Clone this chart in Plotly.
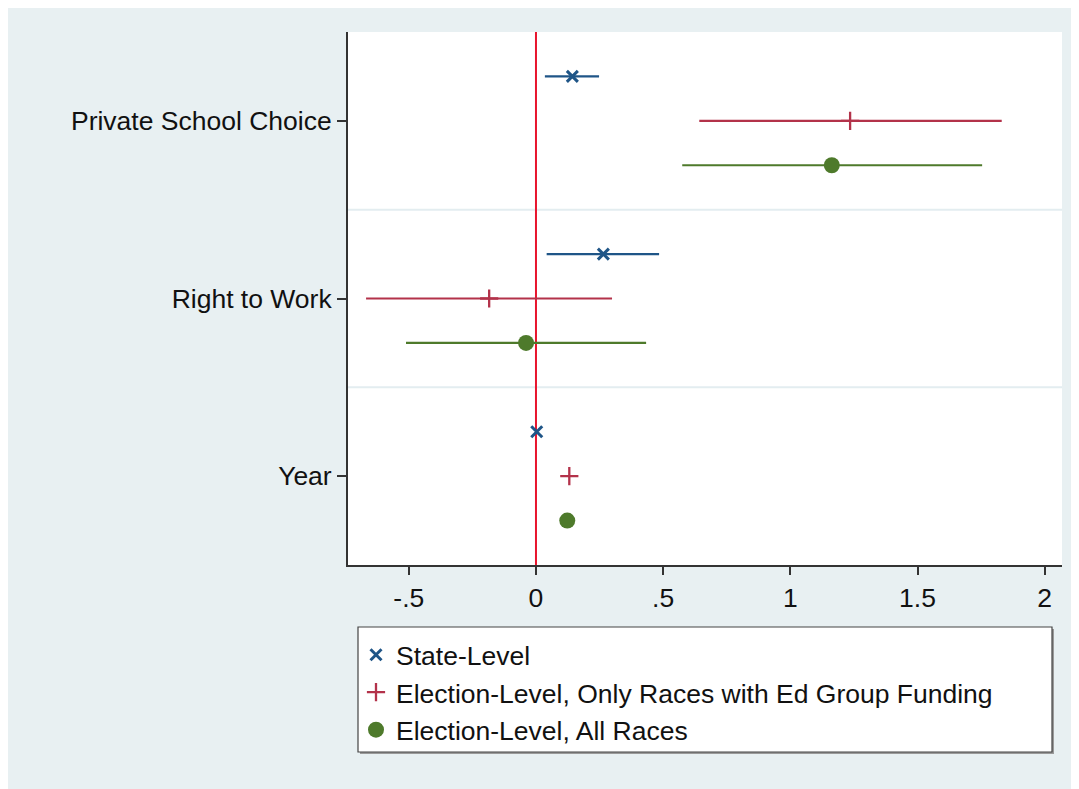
import plotly.graph_objects as go

# ---- data ----
categories = ["Private School Choice", "Right to Work", "Year"]
series_names = ["State-Level",
                "Election-Level, Only Races with Ed Group Funding",
                "Election-Level, All Races"]
state_est = [0.143, 0.265, 0.003]
state_lo = [0.035, 0.042, 0.000]
state_hi = [0.248, 0.484, 0.006]
ed_est = [1.235, -0.184, 0.131]
ed_lo = [0.642, -0.668, 0.128]
ed_hi = [1.831, 0.299, 0.134]
all_est = [1.163, -0.039, 0.123]
all_lo = [0.575, -0.511, 0.120]
all_hi = [1.754, 0.433, 0.126]
x_tickvals = [-0.5, 0, 0.5, 1, 1.5, 2]
x_ticktext = ["-.5", "0", ".5", "1", "1.5", "2"]

OFF = 8  # page body margin
W, H = 1079 - OFF, 789 - OFF
L, T = 348 - OFF, 32 - OFF
R = W - (1062 - OFF)
B = H - (565 - OFF)
PW, PH = W - L - R, H - T - B


def px(x):  # reference-window pixel -> paper
    return (x - OFF - L) / PW


def py(y):
    return (H - B - (y - OFF)) / PH


FONT = "Liberation Sans, Arial, Helvetica, sans-serif"
FS = 26.5
colors = ["#1f5587", "#b3324a", "#4e7a2b"]
offsets = [-0.25, 0.0, 0.25]
symbols = ["x-thin", "cross-thin", "circle"]
sizes = [11, 13, 16]
ests = [state_est, ed_est, all_est]
los = [state_lo, ed_lo, all_lo]
his = [state_hi, ed_hi, all_hi]

base_y = list(range(1, len(categories) + 1))

fig = go.Figure()
for i in range(3):
    e, lo, hi = ests[i], los[i], his[i]
    yv = [b + offsets[i] for b in base_y]
    mk = dict(symbol=symbols[i], size=sizes[i], color=colors[i])
    if symbols[i] != "circle":
        mk["line"] = dict(color=colors[i], width=3 if i == 0 else 2.3)
    fig.add_trace(go.Scatter(
        x=e, y=yv, mode="markers", name=series_names[i],
        legendgroup=f"g{i}",
        marker=mk,
        error_x=dict(type="data", symmetric=False,
                     array=[h - v for h, v in zip(hi, e)],
                     arrayminus=[v - l for v, l in zip(e, lo)],
                     color=colors[i], thickness=2.2, width=0),
    ))

shapes = [
    # outer panel
    dict(type="rect", xref="paper", yref="paper", x0=px(7), x1=px(1085),
         y0=py(795), y1=py(4), fillcolor="#e8f0f2", line=dict(width=0), layer="below"),
    # plot area
    dict(type="rect", xref="paper", yref="paper", x0=0, x1=1, y0=0, y1=1,
         fillcolor="white", line=dict(width=0), layer="below"),
    # separators
    dict(type="line", xref="paper", yref="y", x0=0, x1=1, y0=1.5, y1=1.5,
         line=dict(color="#e3edf0", width=2), layer="below"),
    dict(type="line", xref="paper", yref="y", x0=0, x1=1, y0=2.5, y1=2.5,
         line=dict(color="#e3edf0", width=2), layer="below"),
    # zero line
    dict(type="line", xref="x", yref="paper", x0=0, x1=0, y0=0, y1=1,
         line=dict(color="#e8142d", width=2), layer="below"),
    # legend box shadow and box
    dict(type="rect", xref="paper", yref="paper", x0=px(360), x1=px(1054),
         y0=py(754), y1=py(629), fillcolor="#9a9a9a", line=dict(width=0), layer="below"),
    dict(type="rect", xref="paper", yref="paper", x0=px(358), x1=px(1052),
         y0=py(752), y1=py(627), fillcolor="white", line=dict(color="#444444", width=1.2),
         layer="below"),
]

fig.update_layout(
    width=W, height=H,
    margin=dict(l=L, r=R, t=T, b=B),
    paper_bgcolor="white", plot_bgcolor="white",
    font=dict(family=FONT, size=FS, color="#111111"),
    shapes=shapes,
    showlegend=True,
    legend=dict(x=px(356), y=py(631), xanchor="left", yanchor="top",
                bgcolor="rgba(0,0,0,0)", borderwidth=0,
                font=dict(family=FONT, size=FS, color="#111111"),
                traceorder="grouped", tracegroupgap=0, itemwidth=30),
    xaxis=dict(range=[-0.739, 2.068], tickvals=x_tickvals, ticktext=x_ticktext,
               showgrid=False, zeroline=False, showline=True, linecolor="#333333",
               linewidth=2, ticks="outside", ticklen=8, tickwidth=2, tickcolor="#333333",
               tickfont=dict(family=FONT, size=FS, color="#111111")),
    yaxis=dict(range=[3.5, 0.5], tickvals=base_y, ticktext=categories,
               showgrid=False, zeroline=False, showline=True, linecolor="#333333",
               linewidth=2, ticks="outside", ticklen=9, tickwidth=2, tickcolor="#333333",
               tickfont=dict(family=FONT, size=FS, color="#111111")),
)

fig.write_html("out.html")
